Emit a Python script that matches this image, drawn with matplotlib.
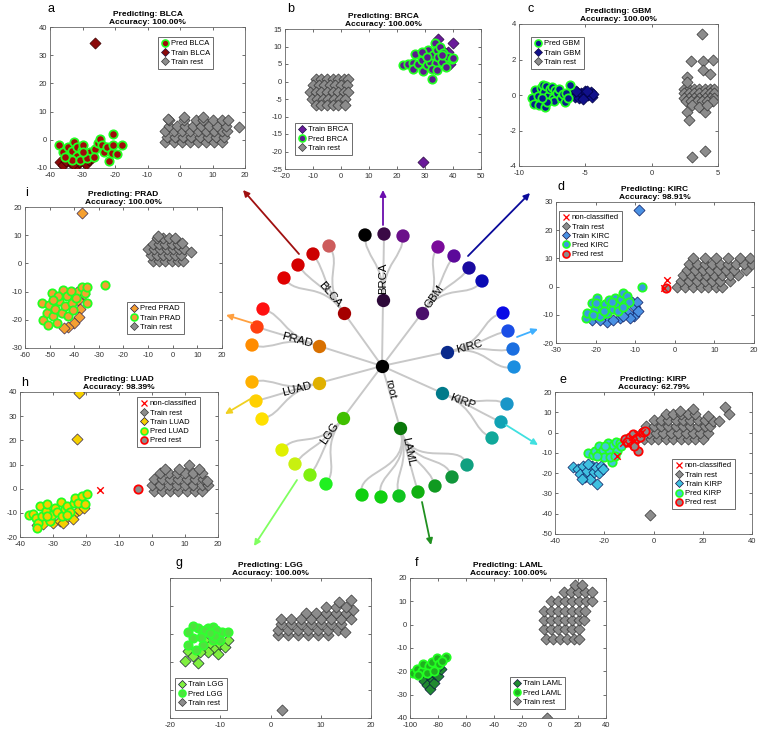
import matplotlib.pyplot as plt
from matplotlib.lines import Line2D
from matplotlib.path import Path
from matplotlib.patches import PathPatch

plt.rcParams['font.family'] = ['Liberation Sans', 'DejaVu Sans']
plt.rcParams['axes.unicode_minus'] = False

W, H = 760, 735

# ---------------- scatter data ----------------
# a: BLCA
a_pred = [(-37.2, -1.7), (-35.9, -4.4), (-34.6, -2.6), (-34.4, -5.6), (-33.3, -3.8), (-32.6, -0.8),
          (-31.6, -2.6), (-31.6, -5.6), (-30.3, -3.5), (-29.7, -1.7), (-28.9, -5.3), (-27.7, -4.4),
          (-26.2, -3.2), (-25.3, -1.2), (-24.6, 0.4), (-24.1, -1.7), (-23.4, -4.4), (-22.4, -2.6),
          (-21.7, -7.4), (-21.0, -4.8), (-20.5, 1.9), (-20.5, -1.7), (-19.3, -5.0), (-17.9, -1.7),
          (-33.3, -7.2), (-35.4, -6.2), (-30.8, -7.2), (-28.5, -6.5), (-26.5, -6.0), (-29.9, -4.4)]
a_train = [(-37, -8), (-36, -9), (-34, -8), (-32, -9.3), (-31, -8), (-30, -7.5), (-29, -8.5),
           (-28, -7), (-27, -6.5), (-35, -7.5), (-33, -8.5), (-26.2, 34.5)]
a_rest = [(-4.5, -0.8), (-2, -0.8), (0.5, -0.8), (3, -0.8), (5.5, -0.8), (8, -0.8), (10.5, -0.8), (13, -0.8),
          (-4, 1), (-1.5, 1), (1, 1), (3.5, 1), (6, 1), (8.5, 1), (11, 1), (13.5, 1),
          (-4.5, 3), (-2, 3), (0.5, 3), (3, 3), (5.5, 3), (8, 3), (10.5, 3), (13, 3), (14.5, 3),
          (-3.5, 5), (-1, 5), (1.5, 5), (4, 5), (6.5, 5), (9, 5), (11.5, 5), (14, 5),
          (-3.5, 7), (1.2, 7), (5, 7), (7.2, 7), (10.3, 7), (12.8, 7), (14.9, 7),
          (18.3, 4.5), (1.3, 8.1), (-3.6, 7.5), (7.2, 8.1)]

# b: BRCA
b_pred = [(22.3, 4.6), (24.0, 4.9), (25.8, 5.3), (25.8, 3.7), (26.6, 8.0), (27.6, 5.1), (28.8, 6.1),
          (29.4, 2.9), (30.0, 8.0), (30.6, 4.6), (31.2, 9.0), (31.8, 5.6), (32.4, 0.6), (32.7, 7.6),
          (33.6, 11.1), (33.9, 5.3), (34.2, 9.0), (34.8, 7.1), (35.4, 10.0), (35.9, 5.6), (36.5, 8.1),
          (37.5, 4.2), (38.3, 7.1), (39.5, 6.3), (40.1, 6.8), (28.8, 8.5), (30.6, 7.1), (32.4, 3.7),
          (34.4, 3.2), (35.9, 7.6)]
b_train = [(39.9, 10.9), (34.8, 12.1), (29.4, -22.9), (38.3, 8.5), (38.9, 5.1), (30, 6), (33, 4), (36, 9)]
b_rest = [(-9, 0.8), (-7, 0.8), (-5, 0.8), (-3, 0.8), (-1, 0.8), (1, 0.8), (2.5, 0.8),
          (-10, -1), (-8, -1), (-6, -1), (-4, -1), (-2, -1), (0, -1), (2, -1),
          (-11, -3), (-9, -3), (-7, -3), (-5, -3), (-3, -3), (-1, -3), (1, -3), (2.5, -3),
          (-10.5, -5), (-8.5, -5), (-6.5, -5), (-4.5, -5), (-2.5, -5), (-0.5, -5), (1.5, -5),
          (-9, -6.8), (-7, -6.8), (-5, -6.8), (-3, -6.8), (-1, -6.8), (1.5, -6.8)]

# c: GBM
c_pred = [(-9.05, -0.15), (-8.8, 0.28), (-8.87, -0.52), (-8.6, -0.06), (-8.47, -0.56), (-8.37, 0.41),
          (-8.22, 0.59), (-8.12, 0.19), (-8.05, -0.65), (-7.97, 0.52), (-7.8, -0.04), (-7.67, 0.33),
          (-7.55, 0.46), (-7.42, -0.15), (-7.35, -0.33), (-7.3, 0.28), (-7.17, 0.09), (-6.97, 0.33),
          (-6.85, -0.19), (-6.67, 0.04), (-6.55, -0.37), (-6.42, 0.13), (-6.3, -0.15), (-6.17, 0.59),
          (-7.92, -0.37), (-8.3, -0.19)]
c_train = [(-6, 0.1), (-5.8, -0.1), (-5.6, 0.15), (-5.5, -0.15), (-5.3, 0.1), (-5.1, -0.1), (-5.0, 0.2),
           (-4.8, 0.0), (-4.6, 0.15), (-4.5, -0.1), (-4.4, 0.05), (-5.7, 0.25), (-5.2, -0.25), (-4.9, 0.25)]
c_rest = [(2.4, 0.35), (2.8, 0.35), (3.2, 0.35), (3.6, 0.35), (4.0, 0.35), (4.4, 0.35), (4.7, 0.35),
          (2.4, 0.1), (2.8, 0.1), (3.2, 0.1), (3.6, 0.1), (4.0, 0.1), (4.4, 0.1), (4.7, 0.1),
          (2.4, -0.15), (2.8, -0.15), (3.2, -0.15), (3.6, -0.15), (4.0, -0.15), (4.4, -0.15), (4.7, -0.15),
          (2.6, -0.35), (3.0, -0.35), (3.4, -0.35), (3.8, -0.35), (4.2, -0.35), (4.6, -0.35),
          (3.8, 3.46), (3.0, 1.9), (3.9, 1.9), (4.6, 1.95), (3.9, 1.43), (4.4, 1.2), (2.65, 1.02),
          (2.7, 0.74), (2.65, -0.93), (2.8, -1.39), (3.07, -0.56), (3.57, -0.65), (4.0, -0.93),
          (4.2, -0.56), (3.07, -3.48), (4.0, -3.15)]

# d: KIRC
d_pred = [(-22.3, -11.2), (-22.1, -9.2), (-21.0, -5.9), (-20.2, -8.0), (-19.6, -4.1), (-18.9, -10.6),
          (-18.5, -7.1), (-17.6, -6.1), (-17.2, -9.2), (-16.5, -4.7), (-16.2, -7.1), (-15.5, -8.0),
          (-15.1, -4.1), (-14.7, -6.1), (-14.3, -8.8), (-13.7, -4.5), (-13.2, -2.4), (-12.6, -6.1),
          (-12.0, -3.5), (-11.5, -5.6), (-8.2, 0.0), (-20.6, -10.0), (-18.0, -8.8), (-15.9, -5.3),
          (-13.0, -7.1), (-19.8, -5.9)]
d_train = [(-10.9, -5.3), (-10.1, -7.1), (-9.6, -5.3), (-10.3, -10.6), (-11.7, -9.4), (-17.2, -12.4),
           (-13.8, -11.2), (-21.0, -11.8), (-9.0, 27.3), (-9.2, -8.8), (-11.2, -11.2), (-13.0, -10.6),
           (-15.5, -11.8), (-19.0, -12.0)]
d_nc = [(-2.05, 2.35), (-2.7, -0.35)]
d_prest = [(-2.2, -0.35)]
d_rest = [(0.5, 0), (2.5, 0), (4.5, 0), (6.5, 0), (8.5, 0), (10.5, 0), (12, 0),
          (1.5, 2), (3.5, 2), (5.5, 2), (7.5, 2), (9.5, 2), (11.5, 2), (14, 2),
          (2, 4), (4, 4), (6, 4), (8, 4), (10, 4), (12, 4), (14, 4), (16, 4),
          (3, 6), (5, 6), (7, 6), (9, 6), (11, 6), (13, 6), (15, 6), (18, 6),
          (3.5, 8), (5.5, 8), (7.5, 8), (9.5, 8), (11.5, 8), (13.5, 8), (15.5, 8), (17.5, 8), (19.5, 8),
          (4.5, 10), (7.5, 10), (10.5, 10), (13.5, 10), (16.5, 10), (19, 10)]

# e: KIRP
e_pred = [(-26.5, -10.1), (-24.7, -10.9), (-23.8, -9.0), (-22.0, -6.8), (-21.7, -10.3), (-20.4, -8.5),
          (-20.0, -12.2), (-18.3, -4.9), (-17.9, -8.5), (-17.0, -14.7), (-16.3, -6.2), (-15.2, -4.6),
          (-14.7, -9.0), (-13.6, -4.9), (-13.2, -6.8), (-11.2, -3.3), (-17.7, -12.2), (-19.7, -6.5),
          (-23.1, -11.4), (-15.6, -11.4)]
e_train = [(-32.6, -17.1), (-30.5, -17.9), (-29.8, -20.4), (-28.5, -16.3), (-27.8, -22.0), (-26.9, -18.7),
           (-25.8, -22.8), (-25.1, -16.6), (-24.2, -19.5), (-23.4, -17.1), (-22.8, -25.2), (-22.0, -19.9),
           (-21.5, -16.3), (-20.6, -17.9), (-29.2, -22.8), (-26.5, -15.5)]
e_nc = [(-15.0, -11.4), (-12.3, -4.9), (-8.9, -2.4), (-6.8, -0.8), (-4.8, 0.3), (-10.2, -5.7), (-7.9, -4.1)]
e_prest = [(-11.6, -3.3), (-9.6, -2.4), (-8.9, -5.2), (-8.2, -0.8), (-7.1, -3.3), (-6.2, -9.0),
           (-5.5, -2.0), (-4.1, 0.3), (-3.5, 0.8), (-7.9, -6.8), (-10.6, -4.6)]
e_rest = [(-4, -3), (-1, -3), (2, -3), (5, -3), (8, -3), (11, -3), (14, -3), (17, -3), (20, -3),
          (-5, 0), (-2, 0), (1, 0), (4, 0), (7, 0), (10, 0), (13, 0), (16, 0), (19, 0), (22, 0),
          (-3, 3), (0, 3), (3, 3), (6, 3), (9, 3), (12, 3), (15, 3), (18, 3), (21, 3), (23, 3),
          (0, 6), (3, 6), (6, 6), (9, 6), (12, 6), (15, 6), (18, 6), (21, 6),
          (5, 9), (8, 9), (11, 9), (14, 9), (17, 9), (10.7, 10.6), (16.2, 11.4),
          (29, 12.5), (30.6, 9), (24.3, 5.7), (26.7, 5.7), (22, 8.1), (-1.4, -40.4)]

# h: LUAD
h_pred = [(-37.2, -10.7), (-36.2, -10.3), (-35.2, -12.1), (-34.5, -14.2), (-33.9, -7.2), (-33.2, -11.4),
          (-32.2, -9.3), (-31.7, -6.5), (-30.9, -13.2), (-30.2, -10.7), (-29.5, -7.9), (-28.7, -9.7),
          (-27.7, -5.4), (-27.2, -11.4), (-26.5, -8.6), (-25.7, -7.2), (-24.7, -9.7), (-23.7, -6.1),
          (-23.2, -3.75), (-22.5, -5.8), (-21.2, -3.1), (-20.4, -6.25), (-19.7, -2.1), (-34.7, -16.3),
          (-31.9, -11.4), (-25.7, -10.7)]
h_train = [(-22.2, 39.6), (-22.7, 20.6), (-30, -14), (-28, -13.5), (-26, -12), (-24, -11), (-22, -9),
           (-35, -15), (-33, -14.5), (-27, -14), (-24, -12.5), (-20.5, -8)]
h_nc = [(-15.9, -0.6)]
h_prest = [(-4.2, -0.3)]
h_rest = [(0.5, -0.8), (3, -0.8), (5.5, -0.8), (8, -0.8), (10.5, -0.8), (13, -0.8), (15, -0.8),
          (0, 1.5), (2.5, 1.5), (5, 1.5), (7.5, 1.5), (10, 1.5), (12.5, 1.5), (15, 1.5), (17, 1.5),
          (0.5, 4), (3, 4), (5.5, 4), (8, 4), (10.5, 4), (13, 4), (15.5, 4), (16.8, 3.2),
          (2.5, 6.5), (5, 6.5), (7.5, 6.5), (10, 6.5), (12.5, 6.5), (15, 6.5),
          (3.8, 8.1), (8.3, 8.1), (11.3, 9.7), (14.3, 8.1)]

# i: PRAD
i_circ = [(-53.2, -14.1), (-52.6, -20.0), (-51.2, -17.6), (-50.1, -14.7), (-49.2, -10.5), (-48.8, -18.8),
          (-47.8, -16.2), (-47.1, -21.2), (-46.1, -13.5), (-45.1, -17.6), (-44.4, -9.3), (-43.8, -15.0),
          (-43.1, -11.7), (-42.4, -18.8), (-41.5, -9.9), (-41.1, -14.1), (-40.4, -16.4), (-39.3, -12.3),
          (-37.0, -8.2), (-35.6, -10.5), (-35.0, -8.2), (-34.7, -14.1), (-27.5, -7.8), (-46.5, -11.7),
          (-48.5, -12.9), (-50.5, -21.7)]
i_diam = [(-38.5, -13), (-37.5, -16), (-38, -19), (-40, -21), (-42.5, -22.5), (-36, -11), (-39, -10),
          (-44, -23), (-36.7, 17.8)]
i_rest = [(-8, 1), (-5.5, 1), (-3, 1), (-0.5, 1), (2, 1), (4, 1),
          (-9, 3), (-6.5, 3), (-4, 3), (-1.5, 3), (1, 3), (3.5, 3),
          (-9.9, 5), (-7.5, 5), (-5, 5), (-2.5, 5), (0, 5), (2.5, 5), (4.5, 5),
          (-8, 7), (-5.5, 7), (-3, 7), (-0.5, 7), (2, 7), (3.6, 7.4),
          (-6.5, 9), (-4, 9), (-1.5, 9), (1, 9), (-5.9, 9.8), (7.3, 4)]

# g: LGG
g_pred = [(-16.4, 0.7), (-15.4, -1.4), (-14.4, 2.1), (-13.4, 0.7), (-12.4, 2.2), (-11.4, 2.6), (-10.4, 0.7),
          (-9.6, 0.8), (-8.4, 0.7), (-13.4, -3.9), (-11.4, -2.0), (-10.0, -2.2), (-16.4, -3.9), (-14.8, -5.7),
          (-13.0, 1.4), (-10.8, 1.4), (-11.0, -0.7), (-12.0, 0.2), (-13.8, -0.9), (-15.4, 3.0)]
g_train = [(-13, -2.5), (-12, -4), (-11, -5.5), (-10, -3.5), (-9, -4.5), (-8.5, -2), (-12.5, -6.5),
           (-10.5, -7.2), (-16.5, -6), (-15.5, -8), (-14.5, -10.5), (-17, -9.5), (-14, -6.5)]
g_rest = [(1.5, -0.5), (3.5, -0.5), (5.5, -0.5), (7.5, -0.5), (9.5, -0.5), (11.5, -0.5),
          (1.5, 1.5), (3.5, 1.5), (5.5, 1.5), (7.5, 1.5), (9.5, 1.5), (11.5, 1.5), (13.5, 1.5),
          (2, 3.5), (4, 3.5), (6, 3.5), (8, 3.5), (10, 3.5), (12, 3.5), (14, 3.5),
          (2, 5.5), (4, 5.5), (6, 5.5), (8, 5.5), (10, 5.5), (12, 5.5), (14, 5.5), (16, 5.5),
          (7, 7.5), (9, 7.5), (11, 7.5), (13, 7.5), (15, 7.5), (16.5, 8.5),
          (11, 9.5), (13, 9.5), (15, 9.5), (13.7, 11.4), (16, 12), (14.9, 0.8), (2.2, -27.1)]

# f: LAML
f_pred = [(-97.6, -20.5), (-95.2, -18.8), (-91.6, -19.8), (-90.4, -16.9), (-86.7, -17.9), (-84.3, -16.2),
          (-80.7, -14.1), (-79.5, -16.9), (-74.0, -13.8), (-94.0, -21.5), (-88.0, -20.5), (-83.1, -19.8),
          (-77.1, -15.5)]
f_train = [(-92, -22), (-90, -24), (-88, -26), (-86, -27.5), (-85, -23), (-83, -25), (-82, -21),
           (-80, -22), (-84, -20), (-87, -21), (-89, -18), (-78, -19), (-80, -18)]
f_rest = [(-3, -6), (2, -6), (7, -6), (12, -6), (17, -6), (21, -6),
          (-4, -2), (1, -2), (6, -2), (11, -2), (16, -2), (21, -2),
          (-4.5, 2), (0.5, 2), (5.5, 2), (10.5, 2), (15.5, 2), (20.5, 2), (24, 2),
          (-4.5, 6), (0.5, 6), (5.5, 6), (10.5, 6), (15.5, 6), (20.5, 6), (25, 6),
          (1, 10), (6, 10), (11, 10), (16, 10), (21, 10), (26, 10), (30, 10),
          (10, 14), (15, 14), (20, 14), (25, 14), (30, 14), (18, 17), (23, 17), (-2.4, -40)]

# ---------------- tree (pixel layout of the centre dendrogram) ----------------
root_xy = (382, 366)
clades = ['BLCA', 'BRCA', 'GBM', 'KIRC', 'KIRP', 'LAML', 'LGG', 'LUAD', 'PRAD']
mid_xy = [(344, 313), (383, 300), (422, 313), (447, 352), (442, 393), (400, 428), (343, 418), (319, 383), (319, 346)]
mid_col = ['#a50000', '#2e0a3a', '#4a0f6b', '#0a2a8c', '#007a8a', '#0a780a', '#40c000', '#e0b000', '#d87000']
leaf_xy = [[(284, 278), (298, 265), (313, 254), (329, 246)],
           [(365, 235), (384, 234), (403, 236)],
           [(438, 247), (454, 256), (469, 268), (482, 281)],
           [(503, 313), (508, 331), (513, 349), (514, 367)],
           [(507, 404), (501, 422), (492, 438)],
           [(362, 495), (381, 497), (399, 496), (418, 492), (435, 486), (452, 477), (467, 465)],
           [(282, 450), (295, 464), (310, 475), (326, 484)],
           [(252, 382), (256, 401), (262, 419)],
           [(263, 309), (257, 327), (252, 345)]]
leaf_col = [['#e00000', '#d40000', '#cc0000', '#cd5c5c'],
            ['#000000', '#3a0a45', '#6b0f8a'],
            ['#7a0a9a', '#5c0a9a', '#1a0aa0', '#0a0ab4'],
            ['#0a0ae6', '#1a4ee6', '#1a6ee0', '#1a8ee0'],
            ['#1a96c8', '#10a2b4', '#10a89a'],
            ['#10d010', '#10d010', '#10c420', '#10b010', '#109a20', '#10963a', '#10a080'],
            ['#e0f000', '#c8f010', '#80f010', '#20f020'],
            ['#ffb000', '#ffd000', '#ffe000'],
            ['#ff1010', '#ff4010', '#ff8c00']]
label_xy = [(330, 294), (383, 278), (434, 297), (469, 347), (462, 402), (408, 452), (330, 433), (297, 389), (297, 340)]
label_rot = [-50, 90, 55, 15, -20, -78, 55, 15, -15]
arrow_tail = [(299, 254), (383, 225), (468, 256), (517, 337), (506, 425), (422, 502), (297, 480), (252, 398), (252, 323)]
arrow_head = [(243, 190), (383, 190), (530, 193), (538, 329), (538, 445), (431, 545), (254, 546), (225, 414), (226, 315)]
arrow_col = ['#a01010', '#6a0dad', '#0a0a9a', '#40b0ff', '#40e0e0', '#209020', '#80ff60', '#f0d020', '#ffa040']

fig = plt.figure(figsize=(W / 100, H / 100), dpi=100)

# overlay axes in pixel units for the tree
ax0 = fig.add_axes([0, 0, 1, 1])
ax0.set_xlim(0, W)
ax0.set_ylim(H, 0)
ax0.axis('off')


def curve(p0, p3, d, k1, k2, **kw):
    L = ((p3[0] - p0[0]) ** 2 + (p3[1] - p0[1]) ** 2) ** 0.5
    p1 = (p0[0] + d[0] * L * k1, p0[1] + d[1] * L * k1)
    p2 = (p3[0] - d[0] * L * k2, p3[1] - d[1] * L * k2)
    path = Path([p0, p1, p2, p3], [Path.MOVETO, Path.CURVE4, Path.CURVE4, Path.CURVE4])
    ax0.add_patch(PathPatch(path, fill=False, **kw))


line_kw = dict(edgecolor='#c8c8c8', lw=1.4, zorder=1)
for i, name in enumerate(clades):
    m = mid_xy[i]
    dx, dy = m[0] - root_xy[0], m[1] - root_xy[1]
    n = (dx ** 2 + dy ** 2) ** 0.5
    d = (dx / n, dy / n)
    curve(root_xy, m, d, 0.3, 0.3, **line_kw)
    for lf in leaf_xy[i]:
        curve(m, lf, d, 0.6, 0.35, **line_kw)
    ax0.scatter([p[0] for p in leaf_xy[i]], [p[1] for p in leaf_xy[i]], s=92, c=leaf_col[i], lw=0, zorder=3)
    ax0.scatter([m[0]], [m[1]], s=92, c=mid_col[i], lw=0, zorder=3)
    ax0.text(label_xy[i][0], label_xy[i][1], name, rotation=label_rot[i], fontsize=8.2,
             ha='center', va='center', rotation_mode='anchor', zorder=4)
    ax0.annotate('', xy=arrow_head[i], xytext=arrow_tail[i],
                 arrowprops=dict(arrowstyle='-|>', color=arrow_col[i], lw=1.3,
                                 mutation_scale=9, shrinkA=0, shrinkB=0))
ax0.scatter([root_xy[0]], [root_xy[1]], s=92, c='black', lw=0, zorder=3)
ax0.text(390, 389, 'root', rotation=-78, fontsize=8.2, ha='center', va='center', rotation_mode='anchor')


# ---------------- panels ----------------
def panel(box, xlim, ylim, xt, yt, letter, letter_xy, name, acc, ylab=True):
    x0, y0, x1, y1 = box
    ax = fig.add_axes([x0 / W, 1 - y1 / H, (x1 - x0) / W, (y1 - y0) / H])
    ax.set_xlim(*xlim)
    ax.set_ylim(*ylim)
    ax.set_xticks(xt)
    ax.set_yticks(yt)
    if not ylab:
        ax.set_yticklabels([])
    ax.tick_params(direction='in', length=2, width=0.5, labelsize=5.5, pad=2,
                   top=True, right=True, colors='#333333')
    ax.tick_params(axis='x', pad=3)
    for s in ax.spines.values():
        s.set_linewidth(0.6)
        s.set_color('#666666')
    ax.set_title('Predicting: %s\nAccuracy: %s' % (name, acc), fontsize=6, fontweight='bold',
                 pad=2, linespacing=1.15)
    fig.text(letter_xy[0] / W, 1 - letter_xy[1] / H, letter, fontsize=9, ha='left', va='center')
    return ax


def xs(p):
    return [q[0] for q in p]


def ys(p):
    return [q[1] for q in p]


def rest(ax, p):
    ax.scatter(xs(p), ys(p), marker='D', s=32, fc='#8c8c8c', ec='#353535', lw=0.5, zorder=2)


def diam(ax, p, fc, ec='#1a1040'):
    ax.scatter(xs(p), ys(p), marker='D', s=32, fc=fc, ec=ec, lw=0.5, zorder=3)


def circ(ax, p, fc, ec='#22ff22'):
    ax.scatter(xs(p), ys(p), marker='o', s=36, fc=fc, ec=ec, lw=1.3, zorder=4)


def cross(ax, p):
    ax.scatter(xs(p), ys(p), marker='x', s=22, c='red', lw=1.0, zorder=5)


def hd_rest():
    return Line2D([], [], ls='none', marker='D', ms=4.5, mfc='#8c8c8c', mec='#353535', mew=0.5)


def hd_diam(fc):
    return Line2D([], [], ls='none', marker='D', ms=4.5, mfc=fc, mec='#1a1040', mew=0.5)


def hd_circ(fc, ec='#22ff22'):
    return Line2D([], [], ls='none', marker='o', ms=5, mfc=fc, mec=ec, mew=1.2)


def hd_x():
    return Line2D([], [], ls='none', marker='x', ms=4.5, color='red', mew=0.9)


def legend(ax, box, handles, labels, tl):
    x0, y0, x1, y1 = box
    lg = ax.legend(handles, labels, loc='upper left',
                   bbox_to_anchor=((tl[0] - x0) / (x1 - x0), 1 - (tl[1] - y0) / (y1 - y0)),
                   borderaxespad=0, fontsize=5.5, frameon=True, fancybox=False, framealpha=1,
                   edgecolor='#555555', handletextpad=0.3, labelspacing=0.25, borderpad=0.4,
                   handlelength=1.0)
    lg.get_frame().set_linewidth(0.6)
    lg.set_zorder(10)


# a
box = (50, 27, 245, 168)
ax = panel(box, (-40, 20), (-10, 40), range(-40, 21, 10), range(-10, 41, 10), 'a', (47, 9), 'BLCA', '100.00%')
rest(ax, a_rest)
diam(ax, a_train, '#8b0a0a', '#3a0000')
circ(ax, a_pred, '#a00a0a')
legend(ax, box, [hd_circ('#a00a0a'), hd_diam('#8b0a0a'), hd_rest()], ['Pred BLCA', 'Train BLCA', 'Train rest'], (158, 37))

# b
box = (285, 29, 481, 169)
ax = panel(box, (-20, 50), (-25, 15), range(-20, 51, 10), range(-25, 16, 5), 'b', (287, 9), 'BRCA', '100.00%')
rest(ax, b_rest)
diam(ax, b_train, '#6a1a9a', '#2a0a40')
circ(ax, b_pred, '#5b1a8c')
legend(ax, box, [hd_diam('#6a1a9a'), hd_circ('#5b1a8c'), hd_rest()], ['Train BRCA', 'Pred BRCA', 'Train rest'], (295, 123))

# c
box = (519, 24, 718, 166)
ax = panel(box, (-10, 5), (-4, 4), range(-10, 6, 5), range(-4, 5, 2), 'c', (527, 9), 'GBM', '100.00%')
rest(ax, c_rest)
diam(ax, c_train, '#10108a', '#000040')
circ(ax, c_pred, '#0a1a8c')
legend(ax, box, [hd_circ('#0a1a8c'), hd_diam('#10108a'), hd_rest()], ['Pred GBM', 'Train GBM', 'Train rest'], (531, 37))

# d
box = (556, 202, 754, 343)
ax = panel(box, (-30, 20), (-20, 30), range(-30, 21, 10), range(-20, 31, 10), 'd', (557, 187), 'KIRC', '98.91%')
rest(ax, d_rest)
diam(ax, d_train, '#4a90e2', '#0a1a60')
circ(ax, d_pred, '#3a9ae0')
circ(ax, d_prest, '#8c8c8c', 'red')
cross(ax, d_nc)
legend(ax, box, [hd_x(), hd_rest(), hd_diam('#4a90e2'), hd_circ('#3a9ae0'), hd_circ('#8c8c8c', 'red')],
       ['non-classified', 'Train rest', 'Train KIRC', 'Pred KIRC', 'Pred rest'], (559, 211))

# e
box = (555, 392, 752, 534)
ax = panel(box, (-40, 40), (-50, 20), range(-40, 41, 20), range(-50, 21, 10), 'e', (560, 380), 'KIRP', '62.79%')
rest(ax, e_rest)
diam(ax, e_train, '#40c0e0', '#0a1a60')
circ(ax, e_pred, '#40c8d8')
circ(ax, e_prest, '#8c8c8c', 'red')
cross(ax, e_nc)
legend(ax, box, [hd_x(), hd_rest(), hd_diam('#40c0e0'), hd_circ('#40c8d8'), hd_circ('#8c8c8c', 'red')],
       ['non-classified', 'Train rest', 'Train KIRP', 'Pred KIRP', 'Pred rest'], (672, 459))

# h
box = (20, 392, 218, 537)
ax = panel(box, (-40, 20), (-20, 40), range(-40, 21, 10), range(-20, 41, 10), 'h', (21, 383), 'LUAD', '98.39%')
rest(ax, h_rest)
diam(ax, h_train, '#f5d000', '#3a2a50')
circ(ax, h_pred, '#f5d000')
circ(ax, h_prest, '#8c8c8c', 'red')
cross(ax, h_nc)
legend(ax, box, [hd_x(), hd_rest(), hd_diam('#f5d000'), hd_circ('#f5d000'), hd_circ('#8c8c8c', 'red')],
       ['non-classified', 'Train rest', 'Train LUAD', 'Pred LUAD', 'Pred rest'], (137, 397))

# i
box = (25, 207, 222, 348)
ax = panel(box, (-60, 20), (-30, 20), range(-60, 21, 10), range(-30, 21, 10), 'i', (25, 193), 'PRAD', '100.00%')
rest(ax, i_rest)
circ(ax, i_circ, '#f5a030')
diam(ax, i_diam, '#f5a030', '#3a2a50')
legend(ax, box, [hd_diam('#f5a030'), hd_circ('#f5a030'), hd_rest()], ['Pred PRAD', 'Train PRAD', 'Train rest'], (127, 302))

# g
box = (170, 578, 371, 718)
ax = panel(box, (-20, 20), (-30, 20), range(-20, 21, 10), range(-30, 21, 10), 'g', (176, 563), 'LGG', '100.00%',
           ylab=False)
rest(ax, g_rest)
circ(ax, g_pred, '#50e040', '#30ff30')
diam(ax, g_train, '#80f040', '#1a2a30')
legend(ax, box, [hd_diam('#80f040'), hd_circ('#50e040', '#30ff30'), hd_rest()], ['Train LGG', 'Pred LGG', 'Train rest'],
       (175, 678))

# f
box = (410, 578, 606, 718)
ax = panel(box, (-100, 40), (-40, 20), range(-100, 41, 20), range(-40, 21, 10), 'f', (415, 563), 'LAML', '100.00%')
rest(ax, f_rest)
diam(ax, f_train, '#208a30', '#0a1a40')
circ(ax, f_pred, '#20b020')
legend(ax, box, [hd_diam('#208a30'), hd_circ('#20b020'), hd_rest()], ['Train LAML', 'Pred LAML', 'Train rest'], (510, 677))

fig.savefig('out.png', dpi=100)
